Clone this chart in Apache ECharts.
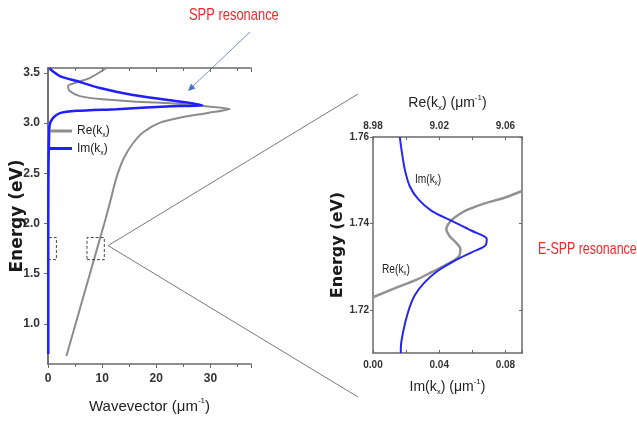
<!DOCTYPE html>
<html>
<head>
<meta charset="utf-8">
<script src="https://cdn.jsdelivr.net/npm/echarts@6/dist/echarts.min.js"></script>
<style>
  html, body { margin: 0; padding: 0; background: #fff; }
  #chart { width: 637px; height: 424px; }
</style>
</head>
<body>
<div id="chart"></div>
<script>
// main panel: dispersion, wavevector (um^-1) vs energy (eV)
var reK = [3.4, 9.02, 10.4, 11.5, 12.6, 14.0, 15.7, 17.6, 20.7, 25.0, 29.3, 33.6, 30.0, 21.9, 15.7, 9.6, 5.9, 4.0, 3.7, 4.9, 7.7, 10.8];
var reE = [0.68, 1.74, 2.00, 2.22, 2.45, 2.65, 2.80, 2.91, 3.005, 3.062, 3.10, 3.142, 3.165, 3.20, 3.216, 3.24, 3.27, 3.32, 3.37, 3.40, 3.45, 3.55];
var imK = [0.05, 0.05, 0.1, 0.2, 0.3, 0.9, 2.2, 5.3, 12.7, 21.9, 28.5, 21.9, 15.7, 9.6, 5.3, 2.2, 0.6, 0.3];
var imE = [0.70, 2.00, 2.60, 2.85, 2.98, 3.05, 3.10, 3.123, 3.14, 3.167, 3.18, 3.233, 3.28, 3.35, 3.42, 3.47, 3.53, 3.55];

// inset: zoom around 1.74 eV
var inImX = [0.0162, 0.0172, 0.0192, 0.0222, 0.0273, 0.0354, 0.0475, 0.0596, 0.0667, 0.0687, 0.0677, 0.0596, 0.0495, 0.0394, 0.0313, 0.0253, 0.0212, 0.0182, 0.0168, 0.0168];
var inImE = [1.7600, 1.7571, 1.7525, 1.7486, 1.7456, 1.7429, 1.7406, 1.7383, 1.7371, 1.7364, 1.7348, 1.7333, 1.7314, 1.7291, 1.7264, 1.7234, 1.7195, 1.7149, 1.7111, 1.7100];
var inReX = [8.98, 8.9952, 9.0053, 9.0154, 9.0235, 9.0315, 9.0328, 9.0300, 9.0262, 9.0243, 9.0262, 9.0295, 9.0356, 9.0457, 9.0598, 9.07];
var inReE = [1.7229, 1.7253, 1.7268, 1.7287, 1.7303, 1.7322, 1.7341, 1.7356, 1.7371, 1.7387, 1.7402, 1.7414, 1.7429, 1.7444, 1.746, 1.7475];

// tick labels
var mainYTicks = [1.0, 1.5, 2.0, 2.5, 3.0, 3.5];
var inYTicks = [1.72, 1.74, 1.76];
var inImTicks = [0, 0.04, 0.08];
var inReTicks = [8.98, 9.02, 9.06];

// dashed boxes [k0, k1, E0, E1]
var boxes = [[-1.85, 1.55, 1.64, 1.86], [7.2, 10.4, 1.64, 1.86]];

function zip(a, b) { return a.map(function (v, i) { return [v, b[i]]; }); }

var FONT = "'Liberation Sans', Arial, sans-serif";
var BOLD = "'DejaVu Sans', 'Liberation Sans', sans-serif";
var AXC = '#6a6a6a';

function richFor(size) {
  var sub = Math.round(size * 0.55), lh = Math.round(size * 1.3);
  return {
    a: { fontFamily: FONT, fontSize: size, color: '#222', lineHeight: lh, verticalAlign: 'middle' },
    s: { fontFamily: FONT, fontSize: sub, color: '#222', lineHeight: lh, verticalAlign: 'bottom' },
    p: { fontFamily: FONT, fontSize: sub, color: '#222', lineHeight: lh, verticalAlign: 'top' }
  };
}

var chart = echarts.init(document.getElementById('chart'));

function boxSeries(b) {
  return {
    type: 'line', xAxisIndex: 0, yAxisIndex: 0, silent: true, clip: false,
    symbol: 'none',
    lineStyle: { color: '#444', width: 1, type: [3, 2] },
    data: [[b[0], b[2]], [b[1], b[2]], [b[1], b[3]], [b[0], b[3]], [b[0], b[2]]]
  };
}

var series = [
  {
    name: 'Re(kx)', type: 'line', xAxisIndex: 0, yAxisIndex: 0,
    symbol: 'none', smooth: 0.25, data: zip(reK, reE),
    lineStyle: { color: '#8c8c8c', width: 2 }, itemStyle: { color: '#8c8c8c' }
  },
  {
    name: 'Im(kx)', type: 'line', xAxisIndex: 0, yAxisIndex: 0,
    symbol: 'none', smooth: 0.25, data: zip(imK, imE),
    lineStyle: { color: '#1f1fff', width: 2.5 }, itemStyle: { color: '#1f1fff' }
  },
  {
    name: 'inRe', type: 'line', xAxisIndex: 3, yAxisIndex: 2,
    symbol: 'none', smooth: 0.3, data: zip(inReX, inReE),
    lineStyle: { color: '#929292', width: 2.5 }
  },
  {
    name: 'inIm', type: 'line', xAxisIndex: 2, yAxisIndex: 2,
    symbol: 'none', smooth: 0.3, data: zip(inImX, inImE),
    lineStyle: { color: '#2626ee', width: 2 }
  }
].concat(boxes.map(boxSeries));

var tickLbl = { fontFamily: FONT, fontSize: 12, color: '#333', fontWeight: 'bold' };
var tickLblS = { fontFamily: FONT, fontSize: 10, color: '#333', fontWeight: 'bold' };

chart.setOption({
  animation: false,
  grid: [
    { left: 48, top: 68, width: 203, height: 296 },
    { left: 373, top: 137, width: 149, height: 216 }
  ],
  legend: {
    data: ['Re(kx)', 'Im(kx)'], orient: 'vertical', left: 50, top: 125, padding: 0,
    icon: 'rect', itemWidth: 22, itemHeight: 3, itemGap: 3.5,
    formatter: function (n) { return '{a|' + n.slice(0, 4) + '}{s|x}{a|)}'; },
    textStyle: { rich: richFor(12) }
  },
  xAxis: [
    {
      gridIndex: 0, type: 'value', min: 0, max: 37.5, interval: 10, position: 'bottom',
      axisLine: { lineStyle: { color: AXC, width: 1.5 } },
      axisTick: { length: 4, lineStyle: { color: AXC } },
      minorTick: { show: true, splitNumber: 2, length: 3, lineStyle: { color: AXC } },
      splitLine: { show: false },
      axisLabel: Object.assign({ margin: 9, showMaxLabel: false }, tickLbl),
      name: '{a|Wavevector (μm}{p|-1}{a|)}', nameLocation: 'middle', nameGap: 33,
      nameMoveOverlap: false,
      nameTextStyle: { rich: richFor(15) }
    },
    {
      gridIndex: 0, type: 'value', min: 0, max: 37.5, interval: 10, position: 'top',
      axisLine: { lineStyle: { color: AXC, width: 1.5 } },
      axisTick: { inside: true, length: 4, lineStyle: { color: AXC } },
      minorTick: { show: true, splitNumber: 2, length: 3, lineStyle: { color: AXC } },
      splitLine: { show: false }, axisLabel: { show: false }
    },
    {
      gridIndex: 1, type: 'value', min: 0, max: 0.09, interval: 0.02, position: 'bottom',
      axisLine: { lineStyle: { color: AXC, width: 1.5 } },
      axisTick: { inside: true, length: 3, lineStyle: { color: AXC } },
      splitLine: { show: false },
      axisLabel: Object.assign({ margin: 7, customValues: inImTicks, formatter: function (v) { return v.toFixed(2); } }, tickLblS),
      name: '{a|Im(k}{s|x}{a|) (μm}{p|-1}{a|)}', nameLocation: 'middle', nameGap: 25,
      nameMoveOverlap: false,
      nameTextStyle: { rich: richFor(14) }
    },
    {
      gridIndex: 1, type: 'value', min: 8.98, max: 9.07, interval: 0.02, position: 'top',
      axisLine: { lineStyle: { color: AXC, width: 1.5 } },
      axisTick: { inside: true, length: 3, lineStyle: { color: AXC } },
      splitLine: { show: false },
      axisLabel: Object.assign({ margin: 6, customValues: inReTicks, formatter: function (v) { return v.toFixed(2); } }, tickLblS),
      name: '{a|Re(k}{s|x}{a|) (μm}{p|-1}{a|)}', nameLocation: 'middle', nameGap: 25,
      nameMoveOverlap: false,
      nameTextStyle: { rich: richFor(14) }
    }
  ],
  yAxis: [
    {
      gridIndex: 0, type: 'value', min: 0.6, max: 3.55, position: 'left',
      axisLine: { show: true, lineStyle: { color: AXC, width: 1.5 } },
      axisTick: { show: true, length: 4, customValues: mainYTicks, lineStyle: { color: AXC } },
      splitLine: { show: false },
      axisLabel: Object.assign({ margin: 8, customValues: mainYTicks, formatter: function (v) { return v.toFixed(1); } }, tickLbl),
      name: 'Energy (eV)', nameLocation: 'middle', nameGap: 22, nameMoveOverlap: false,
      nameTextStyle: { fontFamily: BOLD, fontSize: 17, fontWeight: 'bold', color: '#1a1a1a' }
    },
    {
      gridIndex: 0, type: 'value', min: 0.6, max: 3.55, position: 'right',
      axisLine: { show: true, lineStyle: { color: AXC, width: 1.5 } },
      axisTick: { show: true, inside: true, length: 4, customValues: mainYTicks, lineStyle: { color: AXC } },
      splitLine: { show: false }, axisLabel: { show: false }
    },
    {
      gridIndex: 1, type: 'value', min: 1.71, max: 1.76, position: 'left',
      axisLine: { show: true, lineStyle: { color: AXC, width: 1.5 } },
      axisTick: { show: true, length: 3, customValues: inYTicks, lineStyle: { color: AXC } },
      splitLine: { show: false },
      axisLabel: Object.assign({ margin: 4, customValues: inYTicks, formatter: function (v) { return v.toFixed(2); } }, tickLblS),
      name: 'Energy (eV)', nameLocation: 'middle', nameGap: 27, nameMoveOverlap: false,
      nameTextStyle: { fontFamily: BOLD, fontSize: 16, fontWeight: 'bold', color: '#1a1a1a' }
    },
    {
      gridIndex: 1, type: 'value', min: 1.71, max: 1.76, position: 'right',
      axisLine: { show: true, lineStyle: { color: AXC, width: 1.5 } },
      axisTick: { show: true, inside: true, length: 3, customValues: inYTicks, lineStyle: { color: AXC } },
      splitLine: { show: false }, axisLabel: { show: false }
    }
  ],
  series: series
});

// zoom guide lines from the small box to the inset, plus annotations
var p0 = chart.convertToPixel({ xAxisIndex: 0, yAxisIndex: 0 }, [11.1, 1.78]);
var smallRich = {
  a: { fontFamily: FONT, fontSize: 12, fill: '#222', lineHeight: 15, verticalAlign: 'middle' },
  s: { fontFamily: FONT, fontSize: 7, fill: '#222', lineHeight: 15, verticalAlign: 'bottom' }
};
chart.setOption({
  graphic: [
    { type: 'polyline', silent: true, shape: { points: [[358, 94], p0, [358, 397]] },
      style: { stroke: '#7a7a7a', lineWidth: 1, fill: null } },
    { type: 'line', silent: true, shape: { x1: 250, y1: 32, x2: 192, y2: 87 },
      style: { stroke: '#7590d8', lineWidth: 1 } },
    { type: 'polygon', silent: true, shape: { points: [[188, 91], [195.5, 88.6], [191, 83.8]] },
      style: { fill: '#4a6fd0' } },
    { type: 'text', x: 189, y: 7, scaleX: 0.76,
      style: { text: 'SPP resonance', font: '17px ' + FONT, fill: '#f4282c' } },
    { type: 'text', x: 538, y: 241, scaleX: 0.73,
      style: { text: 'E-SPP resonance', font: '17px ' + FONT, fill: '#f4282c' } },
    { type: 'text', x: 415, y: 172, scaleX: 0.85,
      style: { text: '{a|Im(k}{s|x}{a|)}', rich: smallRich } },
    { type: 'text', x: 382, y: 262, scaleX: 0.85,
      style: { text: '{a|Re(k}{s|x}{a|)}', rich: smallRich } }
  ]
});
</script>
</body>
</html>
